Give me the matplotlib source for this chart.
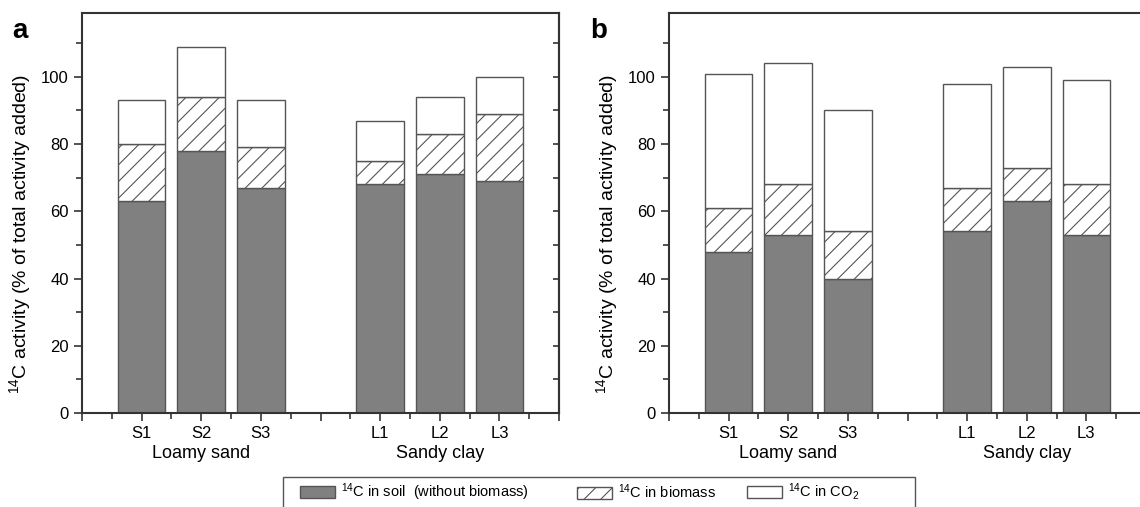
import matplotlib.pyplot as plt
from matplotlib.patches import Patch, Rectangle

plt.rcParams['font.family'] = ['Liberation Sans', 'DejaVu Sans']
plt.rcParams['mathtext.fontset'] = 'custom'
plt.rcParams['mathtext.rm'] = 'Liberation Sans'
plt.rcParams['mathtext.default'] = 'regular'
plt.rcParams['hatch.linewidth'] = 0.8

# categories and positions on the x axis
labels = ['S1', 'S2', 'S3', 'L1', 'L2', 'L3']
pos = [1, 2, 3, 5, 6, 7]
groups = ['Loamy sand', 'Sandy clay']

# cumulative tops: soil, soil+biomass, total
soil_a = [63, 78, 67, 68, 71, 69]
bio_top_a = [80, 94, 79, 75, 83, 89]
co2_top_a = [93, 109, 93, 87, 94, 100]

soil_b = [48, 53, 40, 54, 63, 53]
bio_top_b = [61, 68, 54, 67, 73, 68]
co2_top_b = [101, 104, 90, 98, 103, 99]

dark = '#808080'
edge = '#555555'
spine_col = '#333333'

fig = plt.figure(figsize=(11.4, 5.07), dpi=100)
ax_a = fig.add_axes([82 / 1140, 1 - 413 / 507, 477 / 1140, 400 / 507])
ax_b = fig.add_axes([669 / 1140, 1 - 413 / 507, 477 / 1140, 400 / 507])


def draw(ax, soil, bio_top, co2_top):
    bio = [b - s for b, s in zip(bio_top, soil)]
    co2 = [c - b for c, b in zip(co2_top, bio_top)]
    ax.bar(pos, soil, 0.8, color=dark, edgecolor=edge, linewidth=1)
    ax.bar(pos, bio, 0.8, bottom=soil, color='white', edgecolor=edge,
           hatch='//', linewidth=1)
    ax.bar(pos, co2, 0.8, bottom=bio_top, color='white', edgecolor=edge,
           linewidth=1)
    ax.set_xlim(0, 8)
    ax.set_ylim(0, 119)
    ax.set_xticks(range(0, 9))
    ax.set_xticklabels(['', 'S1', 'S2', 'S3', '', 'L1', 'L2', 'L3', ''])
    ax.set_xticks([x + 0.5 for x in range(0, 8)], minor=True)
    ax.set_yticks(range(0, 101, 20))
    ax.set_yticks(range(10, 111, 20), minor=True)
    ax.tick_params(which='major', length=6, width=1.2, color=spine_col,
                   labelsize=12, direction='out')
    ax.tick_params(which='minor', length=4, width=1.2, color=spine_col,
                   direction='out')
    ax.tick_params(axis='x', pad=3)
    for s in ax.spines.values():
        s.set_linewidth(1.5)
        s.set_color(spine_col)
    # right side ticks pointing inward
    sec = ax.secondary_yaxis('right')
    sec.set_yticks(range(0, 101, 20))
    sec.set_yticks(range(10, 111, 20), minor=True)
    sec.tick_params(which='both', direction='in', length=4, width=1.2,
                    color=spine_col, labelright=False)
    sec.spines['right'].set_linewidth(1.5)
    sec.spines['right'].set_color(spine_col)
    ax.set_ylabel('$^{14}$C activity (% of total activity added)', fontsize=14)
    ax.yaxis.set_label_coords(-0.103, 0.447)
    ax.text(2, -0.1, groups[0], transform=ax.get_xaxis_transform(),
            ha='center', va='center', fontsize=13)
    ax.text(6, -0.1, groups[1], transform=ax.get_xaxis_transform(),
            ha='center', va='center', fontsize=13)


draw(ax_a, soil_a, bio_top_a, co2_top_a)
draw(ax_b, soil_b, bio_top_b, co2_top_b)

fig.text(12 / 1140, 1 - 38 / 507, 'a', fontsize=20, fontweight='bold',
         va='baseline')
fig.text(590 / 1140, 1 - 38 / 507, 'b', fontsize=20, fontweight='bold',
         va='baseline')

# legend box
fig.add_artist(Rectangle((283 / 1140, -0.02), (915 - 283) / 1140,
                         0.02 + (507 - 477) / 507, transform=fig.transFigure,
                         fill=False, edgecolor='#555555', linewidth=1))

leg_items = [
    (Patch(facecolor=dark, edgecolor=edge), '$^{14}$C in soil  (without biomass)', 300),
    (Patch(facecolor='white', edgecolor=edge, hatch='//'), '$^{14}$C in biomass', 577),
    (Patch(facecolor='white', edgecolor=edge), '$^{14}$C in CO$_2$', 747),
]
for h, t, x in leg_items:
    fig.legend([h], [t], loc='center left',
               bbox_to_anchor=(x / 1140, 1 - 492 / 507), frameon=False,
               fontsize=10.5, handlelength=2.4, handleheight=0.9,
               handletextpad=0.4, borderpad=0, borderaxespad=0)

fig.savefig('out.png', dpi=100)
